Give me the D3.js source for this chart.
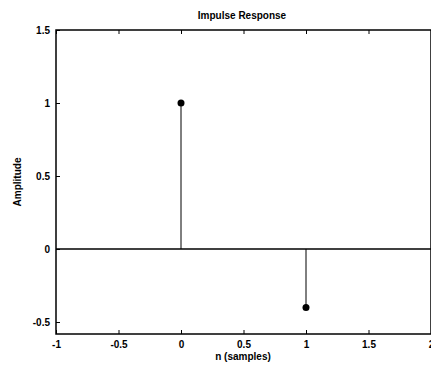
<!DOCTYPE html>
<html><head><meta charset="utf-8">
<script src="https://cdn.jsdelivr.net/npm/d3@7"></script>
<style>body{margin:0;background:#fff;overflow:hidden}svg{display:block}text{font-family:"Liberation Sans",Arial,sans-serif;font-weight:bold;fill:#000}</style>
</head><body>
<script>
const nValues = [0, 1];
const amplitudes = [1, -0.4];
const xTicks = [-1, -0.5, 0, 0.5, 1, 1.5, 2];
const yTicks = [-0.5, 0, 0.5, 1, 1.5];
const titleText = "Impulse Response";
const xLabelText = "n (samples)";
const yLabelText = "Amplitude";

const W = 431, H = 367;
const svg = d3.select("body").append("svg").attr("width", W).attr("height", H);
const pL = 56, pR = 431, pT = 30, pB = 334;
const x = d3.scaleLinear().domain([-1, 2]).range([pL, pR]);
const y = d3.scaleLinear().domain([-0.582, 1.5]).range([pB, pT]);
const fmt = d => d3.format("")(d).replace("−", "-");

// frame
svg.append("rect").attr("x", pL).attr("y", pT).attr("width", pR - pL).attr("height", pB - pT)
  .attr("fill", "#fff").attr("stroke", "#000").attr("stroke-width", 1.5);

// axes
const xb = svg.append("g").attr("transform", `translate(0,${pB})`)
  .call(d3.axisBottom(x).tickValues(xTicks).tickSize(-4).tickPadding(7).tickFormat(fmt));
const xt = svg.append("g").attr("transform", `translate(0,${pT})`)
  .call(d3.axisTop(x).tickValues(xTicks).tickSize(-4).tickFormat(""));
const yl = svg.append("g").attr("transform", `translate(${pL},0)`)
  .call(d3.axisLeft(y).tickValues(yTicks).tickSize(-4).tickPadding(6).tickFormat(fmt));
[xb, xt, yl].forEach(g => {
  g.select(".domain").remove();
  g.selectAll(".tick line").attr("stroke", "#000").attr("stroke-width", 1);
  g.selectAll("text").attr("font-size", 10).attr("font-family", "Liberation Sans, Arial, sans-serif").attr("font-weight", "bold").attr("fill", "#000");
});

// zero line
svg.append("line").attr("x1", pL).attr("x2", pR).attr("y1", y(0)).attr("y2", y(0))
  .attr("stroke", "#000").attr("stroke-width", 1.5);

// stems
const data = nValues.map((n, i) => ({ n, a: amplitudes[i] }));
svg.selectAll(".stem").data(data).enter().append("line")
  .attr("x1", d => x(d.n)).attr("x2", d => x(d.n))
  .attr("y1", y(0)).attr("y2", d => y(d.a))
  .attr("stroke", "#000").attr("stroke-width", 1);
svg.selectAll(".dot").data(data).enter().append("circle")
  .attr("cx", d => x(d.n)).attr("cy", d => y(d.a)).attr("r", 3.5).attr("fill", "#000");

// labels
svg.append("text").attr("x", 242).attr("y", 19).attr("text-anchor", "middle").attr("font-size", 10).text(titleText);
svg.append("text").attr("x", 243).attr("y", 360).attr("text-anchor", "middle").attr("font-size", 10).text(xLabelText);
svg.append("text").attr("transform", `translate(21,182) rotate(-90)`).attr("text-anchor", "middle").attr("font-size", 10).text(yLabelText);
</script>
</body></html>
